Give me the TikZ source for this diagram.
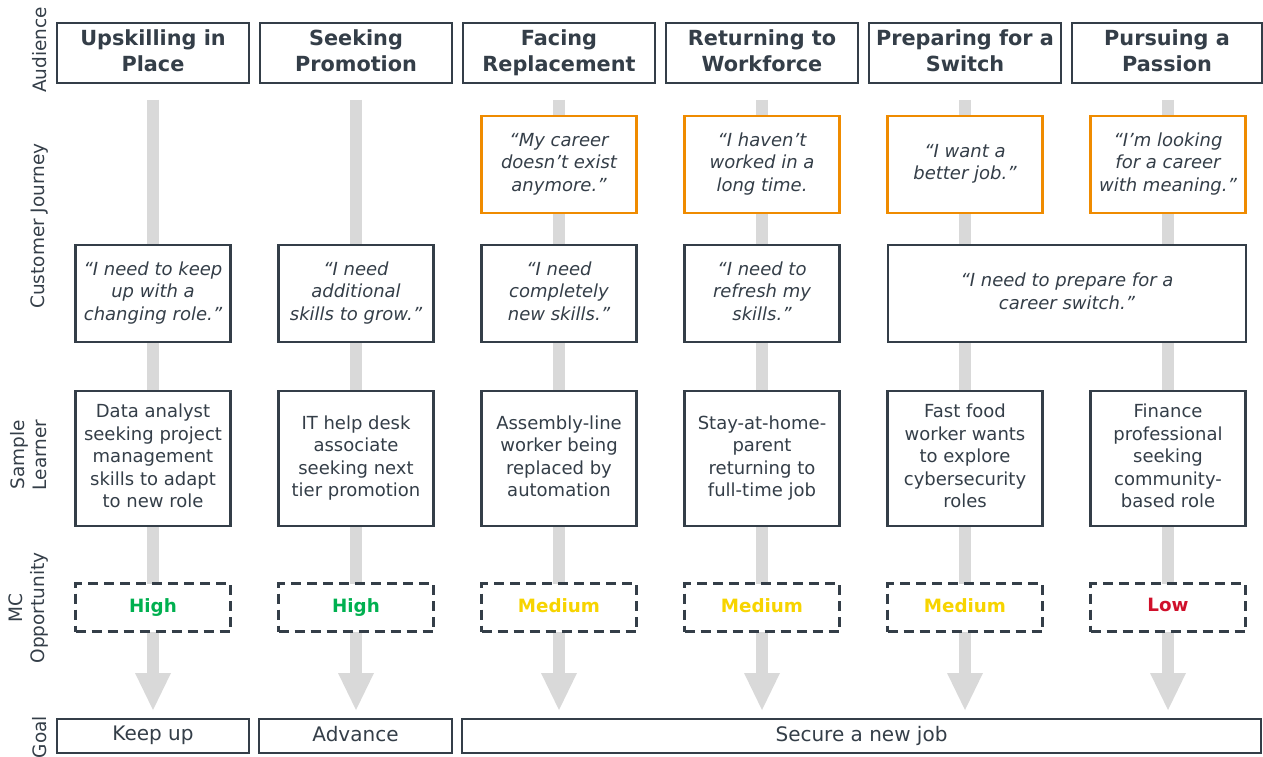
\documentclass[tikz,border=0pt]{standalone}
\usepackage{fontspec}
\setmainfont{DejaVu Sans}
\usetikzlibrary{arrows.meta}

\definecolor{ink}{HTML}{343E48}
\definecolor{flowgray}{HTML}{D9D9D9}
\definecolor{hopeorange}{HTML}{EF8B00}
\definecolor{lvlhigh}{HTML}{00B050}
\definecolor{lvlmed}{HTML}{F7D400}
\definecolor{lvllow}{HTML}{D0102B}

% invisible strut that puts the cap height in the middle of a line
\newcommand\capstrut{\rule[-\dimexpr(\baselineskip-\fontcharht\font`H)/2\relax]{0pt}{\dimexpr(\baselineskip+\fontcharht\font`H)/2\relax}}

\tikzset{
  box/.style={draw=ink, line width=2.2pt, fill=white, text=ink, align=center,
    inner sep=0pt, font=\fontsize{18}{22.5}\selectfont,
    execute at begin node=\capstrut, execute at end node=\capstrut},
  hdr/.style={box, minimum width=192pt, minimum height=60pt,
    font=\bfseries\fontsize{20.8}{26}\selectfont},
  need/.style={box, minimum width=155pt, minimum height=97pt,
    font=\itshape\fontsize{18}{22.5}\selectfont},
  hope/.style={need, draw=hopeorange},
  learner/.style={box, minimum width=155pt, minimum height=135pt},
  level/.style={box, dash pattern=on 10pt off 6pt, minimum width=155pt,
    minimum height=48pt, font=\bfseries\fontsize{18.3}{22.5}\selectfont},
  goalbox/.style={box, minimum height=34pt, font=\fontsize{20}{24}\selectfont},
  rowlabel/.style={rotate=90, text=ink, align=center, inner sep=0pt,
    font=\fontsize{18.5}{22}\selectfont},
  flow/.style={draw=flowgray, line width=12pt,
    -{Triangle[width=36pt, length=37pt, line width=0pt]}}
}

\begin{document}
\begin{tikzpicture}[x=1pt, y=-1pt]
\useasboundingbox (0,0) rectangle (1263,757);

% column centres
\foreach \i/\cx in {1/153, 2/356, 3/559, 4/762, 5/965, 6/1168} {
  \coordinate (top\i) at (\cx,100);
  \coordinate (tip\i) at (\cx,710);
}

% grey flow arrows behind the boxes
\foreach \i in {1,...,6} {
  \draw[flow] (top\i) -- (tip\i);
}

% row labels
\node[rowlabel] (lblaud) at (40,50) {Audience};
\node[rowlabel] (lblcj) at (40,226) {Customer Journey};
\node[rowlabel] (lblsl) at (29,455) {Sample\\Learner};
\node[rowlabel] (lblmc) at (29,608) {MC\\Opportunity};
\node[rowlabel] (lblgoal) at (40,737) {Goal};

% audience headers
\node[hdr] (h1) at (153,53) {Upskilling in\\Place};
\node[hdr] (h2) at (356,53) {Seeking\\Promotion};
\node[hdr] (h3) at (559,53) {Facing\\Replacement};
\node[hdr] (h4) at (762,53) {Returning to\\Workforce};
\node[hdr] (h5) at (965,53) {Preparing for a\\Switch};
\node[hdr, minimum width=190pt] (h6) at (1167,53) {Pursuing a\\Passion};

% motivating statements
\node[hope] (o3) at (559,164.5) {“My career\\doesn’t exist\\anymore.”};
\node[hope] (o4) at (762,164.5) {“I haven’t\\worked in a\\long time.};
\node[hope] (o5) at (965,164.5) {“I want a\\better job.”};
\node[hope] (o6) at (1168,164.5) {“I’m looking\\for a career\\with meaning.”};

% stated needs
\node[need] (n1) at (153,293.5) {“I need to keep\\up with a\\changing role.”};
\node[need] (n2) at (356,293.5) {“I need\\additional\\skills to grow.”};
\node[need] (n3) at (559,293.5) {“I need\\completely\\new skills.”};
\node[need] (n4) at (762,293.5) {“I need to\\refresh my\\skills.”};
\node[need, minimum width=358pt] (n56) at (1067,293.5) {“I need to prepare for a\\career switch.”};

% sample learners
\node[learner] (s1) at (153,458.5) {Data analyst\\seeking project\\management\\skills to adapt\\to new role};
\node[learner] (s2) at (356,458.5) {IT help desk\\associate\\seeking next\\tier promotion};
\node[learner] (s3) at (559,458.5) {Assembly-line\\worker being\\replaced by\\automation};
\node[learner] (s4) at (762,458.5) {Stay-at-home-\\parent\\returning to\\full-time job};
\node[learner] (s5) at (965,458.5) {Fast food\\worker wants\\to explore\\cybersecurity\\roles};
\node[learner] (s6) at (1168,458.5) {Finance\\professional\\seeking\\community-\\based role};

% opportunity levels
\node[level, text=lvlhigh] (m1) at (153,607.5) {High};
\node[level, text=lvlhigh] (m2) at (356,607.5) {High};
\node[level, text=lvlmed] (m3) at (559,607.5) {Medium};
\node[level, text=lvlmed] (m4) at (762,607.5) {Medium};
\node[level, text=lvlmed] (m5) at (965,607.5) {Medium};
\node[level, text=lvllow] (m6) at (1168,607.5) {Low};

% goals
\node[goalbox, minimum width=192pt] (g1) at (153,736) {Keep up};
\node[goalbox, minimum width=193pt] (g2) at (355.5,736) {Advance};
\node[goalbox, minimum width=799pt] (g3) at (861.5,736) {Secure a new job};
\end{tikzpicture}
\end{document}
